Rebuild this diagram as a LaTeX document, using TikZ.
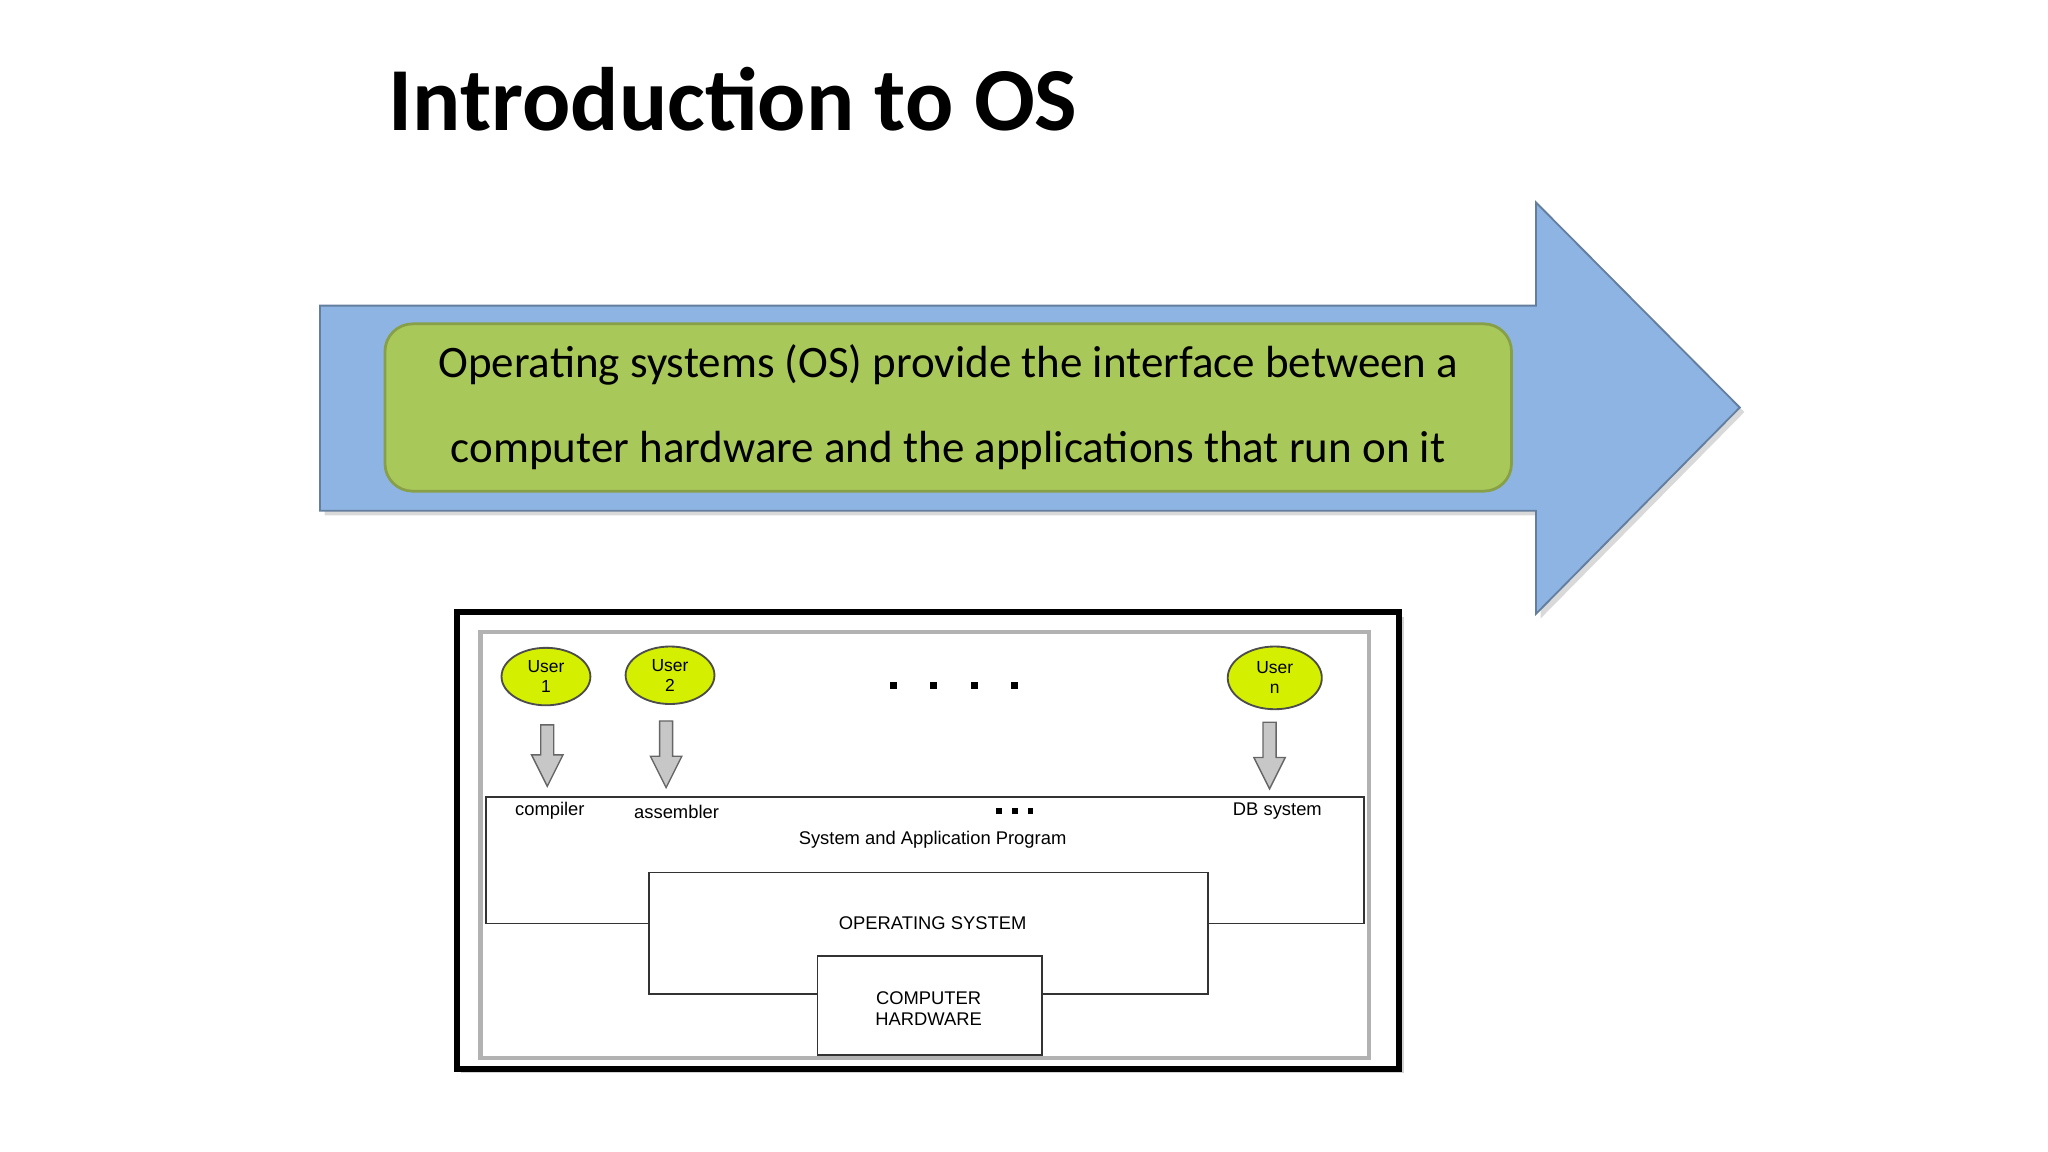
\documentclass[tikz,border=0pt]{standalone}
\usepackage{fontspec}
\setmainfont{Carlito}
\newfontfamily\arialf{Liberation Sans}
\usetikzlibrary{shadows,shapes.geometric}
\definecolor{arrowblue}{HTML}{8DB4E2}
\definecolor{boxgreen}{HTML}{A9C85A}
\definecolor{usergreen}{HTML}{D4F000}
\begin{document}
\begin{tikzpicture}[x=0.01cm,y=-0.01cm,
  lbl/.style={font=\arialf\fontsize{4}{4.6}\selectfont,inner sep=0pt,align=center},
  user/.style={ellipse,draw=black!70,fill=usergreen,minimum width=6.8mm,minimum height=4.4mm,inner sep=0pt,font=\arialf\fontsize{3.8}{4.4}\selectfont,align=center},
  garrow/.style={fill=black!22,draw=black!60,line width=0.3pt},
  dot/.style={fill=black,minimum size=0.55mm,inner sep=0pt}]
\useasboundingbox (0,0) rectangle (1568,882);
\node[anchor=base west,inner sep=0pt,font=\fontsize{19.6}{22}\selectfont\bfseries] (title) at (297,100) {Introduction to OS};
% blue arrow
\path[fill=arrowblue,draw=arrowblue!70!black,line width=0.4pt,drop shadow={opacity=0.3,shadow xshift=1pt,shadow yshift=-1pt}]
 (245,234) -- (1176,234) -- (1176,155) -- (1332,312) -- (1176,470) -- (1176,391) -- (245,391) -- cycle;
\node[draw=boxgreen!80!black,fill=boxgreen,rounded corners=6pt,minimum width=86.2mm,minimum height=12.8mm,
  font=\fontsize{9.8}{18.5}\selectfont,align=center,line width=0.6pt] (msg) at (726,312)
 {Operating systems (OS) provide the interface between a\\computer hardware and the applications that run on it};
% diagram frame
\node[draw=black,line width=1.3pt,fill=white,minimum width=72.1mm,minimum height=34.9mm,inner sep=0pt,drop shadow={opacity=0.35,shadow xshift=1pt,shadow yshift=-1pt}] (frame) at (710.5,643.5) {};
\node[draw=black!30,line width=1pt,minimum width=68mm,minimum height=32.6mm,inner sep=0pt] (inner) at (708,647) {};
% program box
\node[draw=black!80,line width=0.4pt,minimum width=67.2mm,minimum height=9.7mm,inner sep=0pt] (prog) at (708,658.5) {};
\node[draw=black!80,fill=white,line width=0.4pt,minimum width=42.8mm,minimum height=9.3mm,inner sep=0pt] (os) at (711,714.5) {};
\node[draw=black!80,fill=white,line width=0.4pt,minimum width=17.2mm,minimum height=7.6mm,inner sep=0pt] (hw) at (712,770) {};
\node[lbl] (ostxt) at (714,707) {OPERATING SYSTEM};
\node[lbl] (hwtxt) at (711,772) {COMPUTER\\HARDWARE};
\node[lbl] (sap) at (714,643) {System and Application Program};
\node[lbl] (comp) at (421,621) {compiler};
\node[lbl] (asm) at (518,622) {assembler};
\node[lbl] (dbs) at (978,621) {DB system};
\foreach \x [count=\i] in {765,777,789}{\node[fill=black,minimum size=0.45mm,inner sep=0pt] (sd\i) at (\x,621) {};}
% users
\node[user] (u1) at (418,518) {User\\1};
\node[user] (u2) at (513,517) {User\\2};
\node[user,minimum width=7.2mm,minimum height=4.8mm] (un) at (976,519) {User\\n};
\foreach \x [count=\i] in {684,715,746,777}{\node[dot] (d\i) at (\x,525) {};}
% gray arrows
\foreach \x/\a/\b in {419/555/602,510/552/603,972/553/604}{
 \path[garrow] (\x-5,\a) -- (\x+5,\a) -- (\x+5,\b-24) -- (\x+12,\b-24) -- (\x,\b) -- (\x-12,\b-24) -- (\x-5,\b-24) -- cycle;}
\end{tikzpicture}
\end{document}
